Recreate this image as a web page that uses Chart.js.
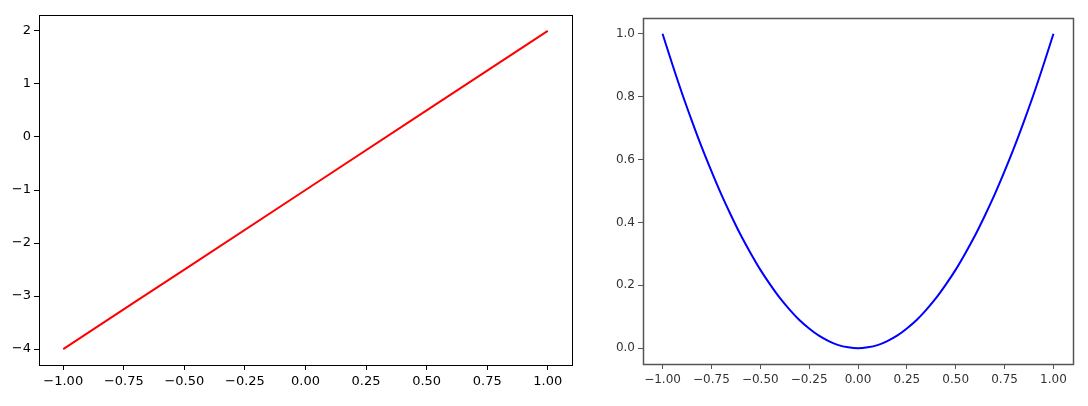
<!DOCTYPE html>
<html>
<head>
<meta charset="utf-8">
<script src="https://cdn.jsdelivr.net/npm/chart.js@4.4.1/dist/chart.umd.min.js"></script>
<style>
  html, body { margin: 0; padding: 0; background: #fff; }
  #wrap { position: relative; width: 1088px; height: 406px; }
  canvas { position: absolute; top: 0; }
  #left { left: 0; }
  #right { left: 580px; }
</style>
</head>
<body>
<div id="wrap">
  <canvas id="left" width="580" height="406"></canvas>
  <canvas id="right" width="508" height="406"></canvas>
</div>
<script>
// left panel: straight red line
const lineX = [-1.0, -0.5, 0.0, 0.5, 1.0];
const lineY = [-4.0, -2.5, -1.0, 0.5, 2.0];

// right panel: blue parabola
const curveX = [-1.0, -0.95, -0.9, -0.85, -0.8, -0.75, -0.7, -0.65, -0.6, -0.55, -0.5,
                -0.45, -0.4, -0.35, -0.3, -0.25, -0.2, -0.15, -0.1, -0.05, 0.0,
                0.05, 0.1, 0.15, 0.2, 0.25, 0.3, 0.35, 0.4, 0.45, 0.5,
                0.55, 0.6, 0.65, 0.7, 0.75, 0.8, 0.85, 0.9, 0.95, 1.0];
const curveY = [1.0, 0.903, 0.81, 0.723, 0.64, 0.563, 0.49, 0.423, 0.36, 0.303, 0.25,
                0.203, 0.16, 0.123, 0.09, 0.063, 0.04, 0.023, 0.01, 0.003, 0.0,
                0.003, 0.01, 0.023, 0.04, 0.063, 0.09, 0.123, 0.16, 0.203, 0.25,
                0.303, 0.36, 0.423, 0.49, 0.563, 0.64, 0.723, 0.81, 0.903, 1.0];

const xTicksLeft = [-1.0, -0.75, -0.5, -0.25, 0.0, 0.25, 0.5, 0.75, 1.0];
const yTicksLeft = [-4, -3, -2, -1, 0, 1, 2];
const xTicksRight = [-1.0, -0.75, -0.5, -0.25, 0.0, 0.25, 0.5, 0.75, 1.0];
const yTicksRight = [0.0, 0.2, 0.4, 0.6, 0.8, 1.0];

Chart.defaults.font.family = "'DejaVu Sans', sans-serif";
Chart.defaults.animation = false;

function fmt(v, digits) {
    const s = Math.abs(v).toFixed(digits);
    return (v < -1e-9 ? '\u2212' : '') + s;
}

function framePlugin(color, width) {
    return {
        id: 'frame',
        afterDatasetsDraw(chart) {
            const a = chart.chartArea;
            const ctx = chart.ctx;
            ctx.save();
            ctx.strokeStyle = color;
            ctx.lineWidth = width;
            ctx.strokeRect(Math.round(a.left) + 0.5, Math.round(a.top) + 0.5,
                           Math.round(a.right - a.left), Math.round(a.bottom - a.top));
            ctx.restore();
        }
    };
}

function makePanel(id, xs, ys, color, opts) {
    const points = xs.map((x, i) => ({ x: x, y: ys[i] }));
    const tickFont = { size: opts.fontSize };
    return new Chart(document.getElementById(id), {
        type: 'line',
        data: {
            datasets: [{
                data: points,
                borderColor: color,
                borderWidth: 2,
                pointRadius: 0,
                fill: false,
                cubicInterpolationMode: 'monotone'
            }]
        },
        options: {
            responsive: false,
            devicePixelRatio: 1,
            layout: { padding: opts.padding },
            plugins: { legend: { display: false }, tooltip: { enabled: false } },
            scales: {
                x: {
                    type: 'linear',
                    min: opts.xMin, max: opts.xMax,
                    afterBuildTicks: (scale) => { scale.ticks = opts.xTicks.map(v => ({ value: v })); },
                    afterFit: (scale) => { scale.height = opts.xHeight; },
                    border: { display: false },
                    grid: { drawOnChartArea: false, drawTicks: true, tickLength: 5, tickColor: opts.axisColor },
                    ticks: {
                        color: opts.textColor, font: tickFont, padding: 4,
                        maxRotation: 0, autoSkip: false,
                        callback: (v) => fmt(v, 2)
                    }
                },
                y: {
                    type: 'linear',
                    min: opts.yMin, max: opts.yMax,
                    afterBuildTicks: (scale) => { scale.ticks = opts.yTicks.map(v => ({ value: v })); },
                    afterFit: (scale) => { scale.width = opts.yWidth; },
                    border: { display: false },
                    grid: { drawOnChartArea: false, drawTicks: true, tickLength: 5, tickColor: opts.axisColor },
                    ticks: {
                        color: opts.textColor, font: tickFont, padding: 3,
                        autoSkip: false,
                        callback: (v) => fmt(v, opts.yDigits)
                    }
                }
            }
        },
        plugins: [framePlugin(opts.axisColor, opts.frameWidth)]
    });
}

makePanel('left', lineX, lineY, '#ff0000', {
    xMin: -1.1, xMax: 1.1, yMin: -4.3, yMax: 2.3,
    xTicks: xTicksLeft, yTicks: yTicksLeft, yDigits: 0,
    padding: { top: 15, right: 8, bottom: 0, left: 0 },
    xHeight: 41, yWidth: 39,
    fontSize: 13, textColor: '#000', axisColor: '#000', frameWidth: 1
});

makePanel('right', curveX, curveY, '#0000ff', {
    xMin: -1.1, xMax: 1.1, yMin: -0.05, yMax: 1.05,
    xTicks: xTicksRight, yTicks: yTicksRight, yDigits: 1,
    padding: { top: 18, right: 15, bottom: 0, left: 0 },
    xHeight: 42, yWidth: 63,
    fontSize: 12, textColor: '#333', axisColor: '#555', frameWidth: 1.5
});
</script>
</body>
</html>
